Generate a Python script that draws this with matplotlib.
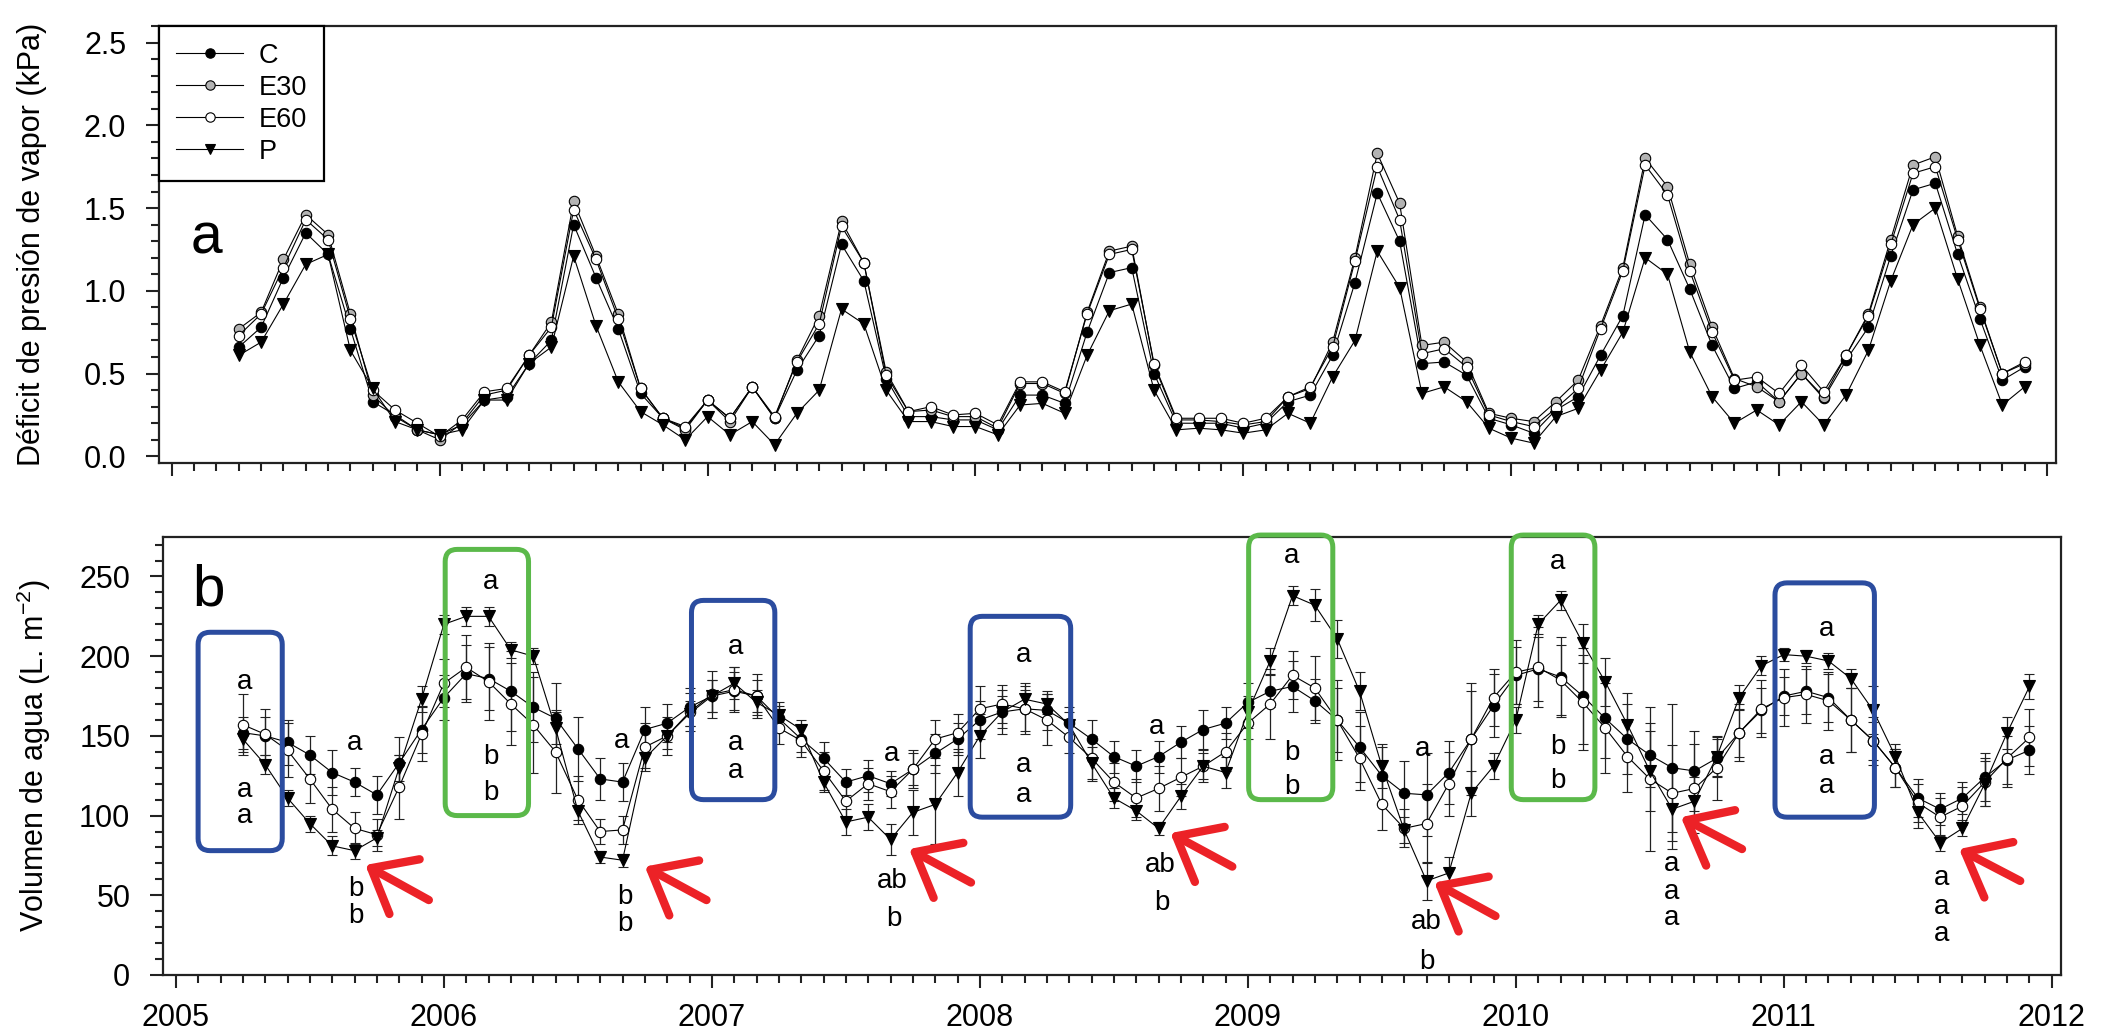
import matplotlib
matplotlib.use('Agg')
import matplotlib.pyplot as plt
from matplotlib.patches import FancyBboxPatch, FancyArrowPatch
from matplotlib.ticker import MultipleLocator, FixedLocator
import numpy as np
import pandas as pd

plt.rcParams['font.family'] = ['Liberation Sans', 'DejaVu Sans']
plt.rcParams['mathtext.default'] = 'regular'

# ---------------- data ----------------
months = pd.date_range('2005-04-01', '2011-12-01', freq='MS')

C_vpd = [0.66, 0.78, 1.08, 1.35, 1.22, 0.77, 0.33, 0.25, 0.16,
         0.13, 0.19, 0.34, 0.36, 0.56, 0.70, 1.40, 1.08, 0.77, 0.38, 0.23, 0.17,
         0.34, 0.23, 0.42, 0.23, 0.52, 0.73, 1.28, 1.06, 0.47, 0.24, 0.24, 0.22,
         0.22, 0.16, 0.37, 0.37, 0.32, 0.75, 1.11, 1.14, 0.50, 0.20, 0.20, 0.20,
         0.17, 0.20, 0.33, 0.37, 0.61, 1.05, 1.59, 1.30, 0.56, 0.57, 0.49, 0.23,
         0.19, 0.14, 0.28, 0.36, 0.61, 0.85, 1.46, 1.31, 1.01, 0.67, 0.41, 0.45,
         0.33, 0.50, 0.35, 0.58, 0.78, 1.21, 1.61, 1.65, 1.22, 0.83, 0.46, 0.54]
E30_vpd = [0.77, 0.87, 1.19, 1.46, 1.34, 0.86, 0.37, 0.24, 0.16,
           0.10, 0.20, 0.37, 0.40, 0.61, 0.81, 1.54, 1.21, 0.86, 0.41, 0.23, 0.16,
           0.34, 0.21, 0.42, 0.23, 0.58, 0.85, 1.42, 1.17, 0.51, 0.27, 0.28, 0.24,
           0.24, 0.17, 0.44, 0.44, 0.38, 0.87, 1.24, 1.27, 0.55, 0.22, 0.22, 0.21,
           0.19, 0.21, 0.36, 0.41, 0.69, 1.20, 1.83, 1.53, 0.67, 0.69, 0.57, 0.26,
           0.23, 0.21, 0.33, 0.46, 0.79, 1.14, 1.80, 1.63, 1.16, 0.78, 0.47, 0.42,
           0.33, 0.50, 0.36, 0.61, 0.86, 1.31, 1.76, 1.81, 1.33, 0.90, 0.50, 0.56]
E60_vpd = [0.73, 0.86, 1.14, 1.43, 1.31, 0.83, 0.40, 0.28, 0.20,
           0.12, 0.22, 0.39, 0.41, 0.61, 0.78, 1.49, 1.19, 0.83, 0.41, 0.23, 0.18,
           0.34, 0.23, 0.42, 0.24, 0.57, 0.80, 1.39, 1.17, 0.49, 0.27, 0.30, 0.25,
           0.26, 0.19, 0.45, 0.45, 0.39, 0.86, 1.22, 1.25, 0.56, 0.23, 0.23, 0.23,
           0.20, 0.23, 0.36, 0.42, 0.66, 1.18, 1.75, 1.43, 0.62, 0.65, 0.54, 0.25,
           0.21, 0.18, 0.29, 0.41, 0.77, 1.12, 1.76, 1.58, 1.12, 0.75, 0.46, 0.48,
           0.38, 0.55, 0.39, 0.61, 0.85, 1.28, 1.71, 1.75, 1.31, 0.89, 0.50, 0.57]
P_vpd = [0.61, 0.69, 0.92, 1.16, 1.22, 0.64, 0.41, 0.21, 0.16,
         0.13, 0.16, 0.34, 0.34, 0.56, 0.66, 1.21, 0.79, 0.45, 0.27, 0.19, 0.10,
         0.24, 0.13, 0.21, 0.07, 0.26, 0.40, 0.89, 0.80, 0.40, 0.21, 0.21, 0.18,
         0.18, 0.13, 0.31, 0.32, 0.26, 0.61, 0.88, 0.92, 0.40, 0.16, 0.17, 0.16,
         0.14, 0.16, 0.26, 0.20, 0.48, 0.70, 1.24, 1.02, 0.38, 0.42, 0.33, 0.17,
         0.11, 0.08, 0.24, 0.29, 0.52, 0.75, 1.20, 1.10, 0.63, 0.36, 0.20, 0.28,
         0.19, 0.33, 0.19, 0.37, 0.64, 1.06, 1.40, 1.50, 1.07, 0.67, 0.31, 0.42]

C_vol = [152, 150, 146, 138, 127, 121, 113, 133, 154,
         174, 189, 186, 178, 168, 161, 142, 123, 121, 154, 158, 168,
         175, 178, 175, 161, 148, 136, 121, 125, 120, 129, 139, 148,
         160, 165, 167, 166, 158, 148, 137, 131, 137, 146, 154, 158,
         171, 178, 181, 172, 160, 143, 125, 114, 113, 127, 148, 169,
         188, 192, 187, 175, 161, 148, 138, 130, 128, 136, 152, 166,
         175, 178, 174, 160, 147, 130, 111, 104, 111, 124, 135, 141]
E60_vol = [157, 151, 141, 123, 104, 92, 88, 118, 151,
           183, 193, 184, 170, 157, 140, 110, 90, 91, 143, 150, 165,
           176, 179, 175, 155, 147, 128, 109, 120, 115, 129, 148, 152,
           167, 170, 167, 160, 149, 136, 121, 111, 117, 124, 131, 140,
           158, 170, 188, 180, 160, 136, 107, 92, 95, 120, 148, 174,
           190, 193, 185, 171, 155, 137, 123, 114, 117, 130, 152, 167,
           174, 176, 172, 160, 147, 130, 108, 99, 106, 121, 136, 149]
P_vol = [148, 132, 111, 95, 81, 78, 86, 130, 173,
         220, 225, 225, 204, 200, 155, 103, 74, 72, 136, 150, 164,
         175, 183, 171, 163, 154, 121, 96, 99, 85, 102, 107, 127,
         150, 165, 173, 170, 157, 133, 111, 103, 92, 112, 131, 127,
         165, 197, 238, 232, 211, 178, 131, 91, 59, 64, 114, 131,
         160, 220, 235, 208, 184, 157, 128, 104, 109, 137, 174, 194,
         201, 200, 197, 186, 166, 137, 102, 83, 92, 120, 152, 181]

C_err = [10, 12, 14, 12, 14, 9, 12, 16, 15,
         14, 18, 20, 25, 22, 22, 20, 13, 12, 14, 12, 12,
         10, 12, 10, 8, 8, 10, 8, 10, 8, 10, 12, 10,
         12, 14, 14, 12, 10, 12, 10, 10, 10, 10, 12, 10,
         12, 10, 16, 14, 20, 22, 18, 20, 26, 20, 30, 20,
         18, 20, 25, 30, 25, 22, 20, 40, 25, 12, 15, 14,
         12, 14, 15, 20, 15, 12, 12, 10, 10, 15, 15, 15]
E60_err = [19, 16, 17, 15, 14, 10, 10, 20, 17,
           15, 20, 24, 26, 30, 26, 15, 8, 9, 15, 12, 12,
           15, 14, 14, 10, 10, 12, 10, 10, 10, 12, 12, 12,
           14, 12, 16, 16, 10, 14, 12, 12, 14, 12, 10, 12,
           10, 22, 15, 20, 25, 20, 16, 12, 25, 20, 35, 18,
           20, 25, 22, 30, 28, 22, 45, 30, 28, 20, 18, 18,
           18, 18, 18, 20, 12, 12, 12, 12, 12, 15, 18, 18]
P_err = [8, 6, 5, 5, 6, 5, 5, 8, 8,
         6, 6, 6, 5, 5, 10, 6, 4, 4, 6, 8, 8,
         10, 10, 8, 8, 6, 6, 8, 8, 10, 14, 25, 15,
         14, 10, 6, 6, 8, 10, 6, 6, 4, 8, 8, 10,
         10, 8, 6, 10, 12, 12, 14, 8, 12, 10, 14, 8,
         8, 6, 6, 12, 15, 20, 25, 25, 15, 12, 8, 6,
         4, 4, 5, 6, 15, 8, 10, 5, 5, 14, 10, 8]

year_ticks = [2005, 2006, 2007, 2008, 2009, 2010, 2011, 2012]
vpd_ticks = [0.0, 0.5, 1.0, 1.5, 2.0, 2.5]
vol_ticks = [0, 50, 100, 150, 200, 250]

# significance letters (text, decimal year, value at glyph centre)
letters = [('a', 2005.257, 184), ('a', 2005.257, 116), ('a', 2005.257, 100),
           ('a', 2005.666, 146), ('b', 2005.67, 56), ('b', 2005.67, 39),
           ('a', 2006.174, 247), ('b', 2006.174, 139), ('b', 2006.174, 116),
           ('a', 2006.662, 147), ('b', 2006.675, 51), ('b', 2006.675, 34),
           ('a', 2007.089, 206), ('a', 2007.089, 146), ('a', 2007.089, 128),
           ('a', 2007.669, 139), ('ab', 2007.674, 61), ('b', 2007.68, 37),
           ('a', 2008.165, 201), ('a', 2008.165, 132), ('a', 2008.165, 113),
           ('a', 2008.661, 156), ('ab', 2008.673, 71), ('b', 2008.678, 47),
           ('a', 2009.165, 263), ('b', 2009.165, 141), ('b', 2009.165, 120),
           ('a', 2009.653, 142), ('ab', 2009.666, 35), ('b', 2009.669, 10),
           ('a', 2010.157, 259), ('b', 2010.157, 145), ('b', 2010.157, 124),
           ('a', 2010.582, 70), ('a', 2010.582, 52), ('a', 2010.582, 36),
           ('a', 2011.16, 217), ('a', 2011.16, 137), ('a', 2011.16, 119),
           ('a', 2011.59, 61), ('a', 2011.59, 43), ('a', 2011.59, 26)]

# highlight boxes (x0, x1, y0, y1, kind)
boxes = [(2005.083, 2005.397, 78, 215, 'blue'),
         (2006.005, 2006.316, 100, 267, 'green'),
         (2006.924, 2007.235, 110, 235, 'blue'),
         (2007.964, 2008.339, 99, 225, 'blue'),
         (2009.003, 2009.317, 110, 276, 'green'),
         (2009.983, 2010.295, 110, 276, 'green'),
         (2010.967, 2011.338, 99, 246, 'blue')]

# red arrows (tail, head)
arrows = [((2005.944, 47), (2005.707, 69)),
          ((2006.98, 47), (2006.75, 68)),
          ((2007.967, 58), (2007.736, 79)),
          ((2008.942, 68), (2008.711, 89)),
          ((2009.924, 37), (2009.696, 58)),
          ((2010.844, 79), (2010.616, 99)),
          ((2011.882, 59), (2011.654, 79))]

# ---------------- figure ----------------
x = months.year + (months.month - 1) / 12.0

fig = plt.figure(figsize=(21.14, 10.35), dpi=100)
ax1 = fig.add_axes([0.0752, 0.5527, 0.8974, 0.4222])
ax2 = fig.add_axes([0.0771, 0.0580, 0.8978, 0.4235])

line_kw = dict(lw=0.8, color='black', mec='black', mew=0.8)
ax1.plot(x, C_vpd, marker='o', ms=7.5, mfc='black', label='C', **line_kw)
ax1.plot(x, E30_vpd, marker='o', ms=7.5, mfc='#b3b3b3', label='E30', **line_kw)
ax1.plot(x, E60_vpd, marker='o', ms=7.5, mfc='white', label='E60', **line_kw)
ax1.plot(x, P_vpd, marker='v', ms=8.5, mfc='black', label='P', **line_kw)

leg = ax1.legend(loc='upper left', borderaxespad=0, fancybox=False,
                 edgecolor='black', framealpha=1, fontsize=19.5,
                 handlelength=2.5, labelspacing=0.22, borderpad=0.62,
                 handletextpad=0.55, markerscale=0.9)
leg.get_frame().set_linewidth(1.6)

eb_kw = dict(lw=0.8, color='black', mec='black', mew=0.8, ecolor='#222222',
             elinewidth=0.9, capsize=3.5, capthick=0.9)
ax2.errorbar(x, C_vol, yerr=C_err, marker='o', ms=7.5, mfc='black', **eb_kw)
ax2.errorbar(x, E60_vol, yerr=E60_err, marker='o', ms=7.5, mfc='white', **eb_kw)
ax2.errorbar(x, P_vol, yerr=P_err, marker='v', ms=8.5, mfc='black', **eb_kw)

for ax in (ax1, ax2):
    ax.set_xlim(2004.952, 2012.034)
    ax.xaxis.set_major_locator(FixedLocator(year_ticks))
    ax.xaxis.set_minor_locator(MultipleLocator(1 / 12.0))
    ax.tick_params(which='both', direction='out', width=1.5, labelsize=22,
                   color='#222222')
    ax.tick_params(which='major', length=9.5)
    ax.tick_params(which='minor', length=5.5)
    ax.tick_params(axis='y', which='major', pad=14)
    ax.tick_params(axis='x', which='major', pad=11)
    for s in ax.spines.values():
        s.set_linewidth(1.6)
        s.set_color('#222222')

ax1.tick_params(axis='x', labelbottom=False)
ax1.set_ylim(-0.04, 2.6)
ax1.yaxis.set_major_locator(FixedLocator(vpd_ticks))
ax1.set_yticklabels([f'{v:.1f}' for v in vpd_ticks])
ax1.yaxis.set_minor_locator(MultipleLocator(0.1))
ax1.set_ylabel('Déficit de presión de vapor (kPa)', fontsize=22)
ax1.yaxis.set_label_coords(-0.059, 0.5)

ax2.set_ylim(0, 275)
ax2.yaxis.set_major_locator(FixedLocator(vol_ticks))
ax2.yaxis.set_minor_locator(MultipleLocator(10))
ax2.set_xticklabels([str(y) for y in year_ticks])
ax2.set_ylabel('Volumen de agua (L. m$^{-2}$)', fontsize=22)
ax2.yaxis.set_label_coords(-0.058, 0.5)

ax1.text(0.0165, 0.48, 'a', transform=ax1.transAxes, fontsize=41,
         ha='left', va='baseline')
ax2.text(0.0155, 0.843, 'b', transform=ax2.transAxes, fontsize=42,
         ha='left', va='baseline')

colors = {'blue': '#2b4c9f', 'green': '#5bb94a'}
for x0, x1, y0, y1, kind in boxes:
    p = FancyBboxPatch((x0, y0), x1 - x0, y1 - y0,
                       boxstyle='round,pad=0,rounding_size=0.045',
                       mutation_aspect=170, fill=False,
                       ec=colors[kind], lw=3.6, zorder=6, clip_on=False)
    ax2.add_patch(p)

for txt, lx, ly in letters:
    off = 6.4 if 'b' in txt else 4.6
    ax2.text(lx, ly - off, txt, fontsize=20, ha='center', va='baseline',
             zorder=7)

for tail, head in arrows:
    a = FancyArrowPatch(posA=tail, posB=head,
                        arrowstyle='->,head_length=0.55,head_width=0.45',
                        mutation_scale=50, lw=6, color='#ec2227',
                        shrinkA=0, shrinkB=0, zorder=8)
    ax2.add_patch(a)

fig.savefig('out.png', dpi=100)
